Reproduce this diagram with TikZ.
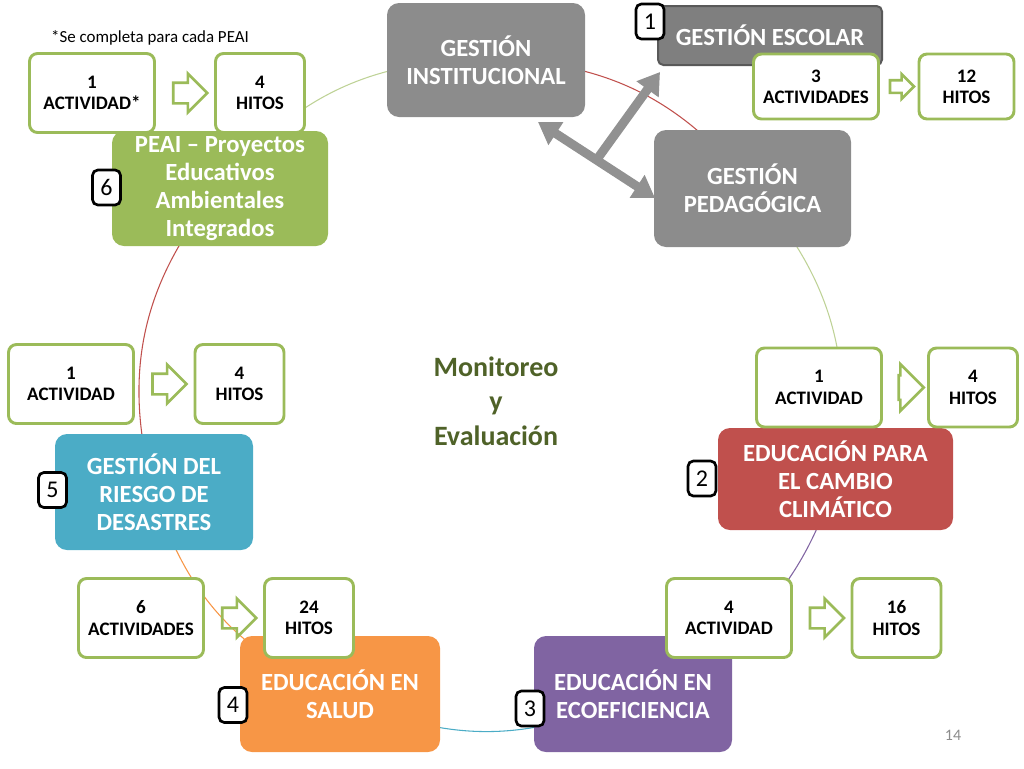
\documentclass[tikz,border=0pt]{standalone}
\usepackage{fontspec}
\setmainfont{Carlito}
\usepackage{tikz}
\usetikzlibrary{arrows.meta,backgrounds,calc,shapes.arrows}

\newcommand\pxu{0.75pt}
\definecolor{grisbox}{RGB}{140,140,140}
\definecolor{grisesc}{RGB}{127,127,127}
\definecolor{grisborde}{RGB}{89,89,89}
\definecolor{grisflecha}{RGB}{145,145,145}
\definecolor{verde}{RGB}{155,187,89}
\definecolor{verdeclaro}{RGB}{190,210,150}
\definecolor{rojo}{RGB}{192,80,77}
\definecolor{morado}{RGB}{128,100,162}
\definecolor{celeste}{RGB}{75,172,198}
\definecolor{naranja}{RGB}{247,150,70}
\definecolor{oliva}{RGB}{79,98,40}

\begin{document}
\begin{tikzpicture}[x=0.75pt,y=0.75pt,yscale=-1,xscale=1,
  bigbox/.style={rounded corners=9pt, inner sep=0pt, text=white, align=center,
    font=\bfseries\fontsize{18.5}{21}\selectfont},
  actbox/.style={draw=verde, line width=2.2pt, fill=white, rounded corners=6pt,
    inner sep=0pt, align=center, minimum width=125*\pxu, minimum height=79*\pxu,
    font=\bfseries\fontsize{14.3}{16}\selectfont},
  hitbox/.style={actbox, minimum width=89*\pxu},
  numbox/.style={draw=black, line width=2pt, fill=white, rounded corners=4pt,
    inner sep=0pt, minimum width=28*\pxu, minimum height=35*\pxu,
    font=\fontsize{18}{18}\selectfont},
  blockarr/.style={single arrow, draw=verde, line width=2pt, inner xsep=0pt,
    inner ysep=9*\pxu, single arrow head extend=9*\pxu, minimum height=34*\pxu},
  grayarr/.style={draw=grisflecha, line width=9*\pxu,
    {Triangle[width=19.5pt,length=16pt]}-{Triangle[width=19.5pt,length=16pt]}},
  link/.style={line width=0.8pt}]
\useasboundingbox (0,0) rectangle (1024,768);

% gestion
\node[bigbox, fill=grisbox, minimum width=198*\pxu, minimum height=114*\pxu] (inst) at (486,60) {GESTIÓN\\INSTITUCIONAL};
\node[bigbox, fill=grisesc, draw=grisborde, line width=1.5pt, rounded corners=4pt, minimum width=224*\pxu, minimum height=59*\pxu] (esc) at (770,35.5) {GESTIÓN ESCOLAR};
\node[bigbox, fill=grisbox, minimum width=197*\pxu, minimum height=117*\pxu] (ped) at (752.5,188.5) {GESTIÓN\\PEDAGÓGICA};

% ejes
\node[bigbox, fill=rojo, minimum width=235*\pxu, minimum height=102*\pxu] (cc) at (835.5,479) {EDUCACIÓN PARA\\EL CAMBIO\\CLIMÁTICO};
\node[bigbox, fill=morado, minimum width=198*\pxu, minimum height=116*\pxu] (eco) at (633,694) {EDUCACIÓN EN\\ECOEFICIENCIA};
\node[bigbox, fill=naranja, minimum width=200*\pxu, minimum height=116*\pxu] (salud) at (340,694) {EDUCACIÓN EN\\SALUD};
\node[bigbox, fill=celeste, minimum width=198*\pxu, minimum height=116*\pxu] (riesgo) at (154,492) {GESTIÓN DEL\\RIESGO DE\\DESASTRES};
\node[bigbox, fill=verde, minimum width=216*\pxu, minimum height=115*\pxu] (peai) at (220,188.5) {PEAI – Proyectos\\Educativos\\Ambientales\\Integrados};

% actividades e hitos
\node[actbox] (a6) at (92,93) {1\\ACTIVIDAD*};
\node[hitbox] (h6) at (260,93) {4\\HITOS};
\node[actbox, minimum height=65*\pxu] (a1) at (816,86.5) {3\\ACTIVIDADES};
\node[hitbox, minimum height=65*\pxu, minimum width=95*\pxu] (h1) at (966.5,86.5) {12\\HITOS};
\node[actbox] (a2) at (819,387.5) {1\\ACTIVIDAD};
\node[hitbox] (h2) at (973,387.5) {4\\HITOS};
\node[actbox] (a3) at (729,618) {4\\ACTIVIDAD};
\node[hitbox] (h3) at (896.5,618) {16\\HITOS};
\node[actbox] (a4) at (141,618) {6\\ACTIVIDADES};
\node[hitbox] (h4) at (309,618) {24\\HITOS};
\node[actbox] (a5) at (71,384) {1\\ACTIVIDAD};
\node[hitbox] (h5) at (239.5,384) {4\\HITOS};

% flechas verdes
\node[blockarr] (ar6) at ($(a6.east)!0.5!(h6.west)$) {};
\node[blockarr, minimum height=24*\pxu, inner ysep=5*\pxu, single arrow head extend=6*\pxu] (ar1) at ($(a1.east)!0.5!(h1.west)$) {};
\node[blockarr, minimum height=25*\pxu, inner ysep=11*\pxu, single arrow head extend=11*\pxu] (ar2) at ($(a2.east)!0.5!(h2.west)$) {};
\node[blockarr] (ar3) at ($(a3.east)!0.5!(h3.west)$) {};
\node[blockarr] (ar4) at ($(a4.east)!0.5!(h4.west)$) {};
\node[blockarr] (ar5) at ($(a5.east)!0.5!(h5.west)$) {};

% numeros
\node[numbox] (n1) at (650,21.5) {1};
\node[numbox] (n2) at (702,478.5) {2};
\node[numbox] (n3) at (530,708.5) {3};
\node[numbox] (n4) at (233,705) {4};
\node[numbox] (n5) at (52.5,490) {5};
\node[numbox] (n6) at (106.5,187.5) {6};

% textos
\node[font=\bfseries\fontsize{21}{26}\selectfont, text=oliva, align=center] (mon) at (496,401) {Monitoreo\\y\\Evaluación};
\node[font=\fontsize{12.7}{14}\selectfont] (nota) at (150,38) {*Se completa para cada PEAI};
\node[font=\fontsize{12}{14}\selectfont, text=grisbox] (pag) at (953,735) {14};

% flechas grises
\coordinate (tipI) at (538,122);
\coordinate (tipP) at (655,198);
\coordinate (tipE) at (660,72);
\coordinate (fork) at ($(tipI)!0.5!(tipP)$);
\draw[grayarr] (tipI) -- (tipP);
\draw[grayarr, -{Triangle[width=19.5pt,length=16pt]}] (fork) -- (tipE);

% ciclo
\begin{scope}[on background layer]
\draw[link, verdeclaro] (peai.center) to[bend right=26] (inst.center);
\draw[link, rojo] (inst.center) to[bend right=26] (ped.center);
\draw[link, verdeclaro] (ped.center) to[bend right=26] (cc.center);
\draw[link, morado] (cc.center) to[bend right=26] (eco.center);
\draw[link, celeste] (eco.center) to[bend right=26] (salud.center);
\draw[link, naranja] (salud.center) to[bend right=26] (riesgo.center);
\draw[link, rojo] (riesgo.center) to[bend right=28] (peai.center);
\end{scope}

\end{tikzpicture}
\end{document}
